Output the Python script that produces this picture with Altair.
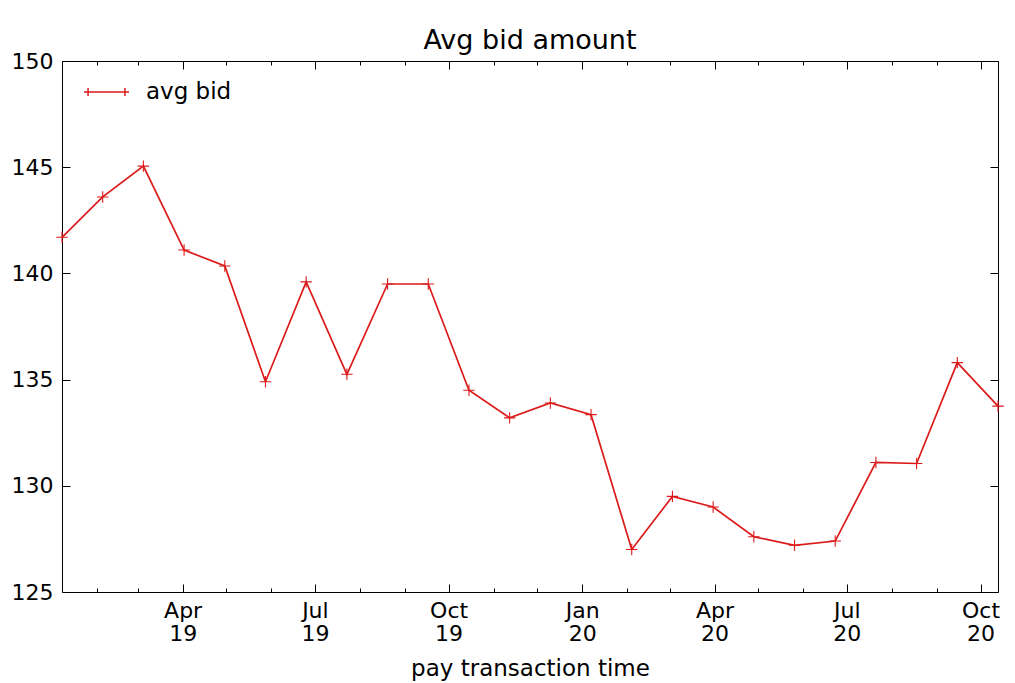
import altair as alt
import pandas as pd

# ---- data ----
dates = ["2019-01-08", "2019-02-05", "2019-03-05", "2019-04-02", "2019-04-30",
         "2019-05-28", "2019-06-25", "2019-07-23", "2019-08-20", "2019-09-17",
         "2019-10-15", "2019-11-12", "2019-12-10", "2020-01-07", "2020-02-04",
         "2020-03-03", "2020-03-31", "2020-04-28", "2020-05-26", "2020-06-23",
         "2020-07-21", "2020-08-18", "2020-09-15", "2020-10-13"]
avg_bid = [141.7, 143.6, 145.05, 141.1, 140.35, 134.9, 139.6, 135.25, 139.5, 139.5,
           134.5, 133.2, 133.9, 133.35, 127.0, 129.5, 129.0, 127.6, 127.2, 127.4,
           131.1, 131.05, 135.8, 133.75]
series_name = ["avg bid"] * len(dates)
y_ticks = [125, 130, 135, 140, 145, 150]

df = pd.DataFrame({"date": dates, "avg_bid": avg_bid, "series": series_name})

FONT = "DejaVu Sans"
RED = "#dc1a1a"
PLUS = "M-1,0L1,0M0,-1L0,1"
LEGEND_SYMBOL = "M-1,0L1,0M-0.82,-0.18L-0.82,0.18M0.82,-0.18L0.82,0.18"

x_scale = alt.Scale(type="utc", nice=False)
y_scale = alt.Scale(domain=[125, 150], nice=False, zero=False)

QUARTER = {"interval": "month", "step": 3}
MONTH = {"interval": "month", "step": 1}


def tick_axis(orient, count, size):
    return alt.Axis(orient=orient, title=None, domain=False, grid=False,
                    labels=False, tickCount=count, tickSize={"expr": str(-size)},
                    tickColor="black", tickWidth=1)


x_bottom = alt.Axis(
    orient="bottom", title="pay transaction time", domain=False, grid=False,
    tickCount=QUARTER, tickSize={"expr": "-8"}, tickColor="black", tickWidth=1,
    labelExpr="[utcFormat(datum.value, '%b'), utcFormat(datum.value, '%y')]",
    labelFont=FONT, labelFontSize=22, labelColor="black", labelPadding=16,
    labelLineHeight=23, labelOverlap=False, labelFlush=False, labelAlign="center",
    titleFont=FONT, titleFontSize=23, titleFontWeight="normal", titleColor="black",
    titleBaseline="alphabetic", titleY=83,
)
y_left = alt.Axis(
    orient="left", title=None, domain=False, grid=False, values=y_ticks,
    tickSize={"expr": "-8"}, tickColor="black", tickWidth=1,
    labelFont=FONT, labelFontSize=22, labelColor="black", labelPadding=17,
)
y_right = alt.Axis(
    orient="right", title=None, domain=False, grid=False, values=y_ticks,
    labels=False, tickSize={"expr": "-8"}, tickColor="black", tickWidth=1,
)

line = alt.Chart(df).mark_line(strokeWidth=1.7).encode(
    x=alt.X("date:T", scale=x_scale, axis=x_bottom),
    y=alt.Y("avg_bid:Q", scale=y_scale, axis=y_left),
    color=alt.Color(
        "series:N", scale=alt.Scale(range=[RED]),
        legend=alt.Legend(
            title=None, orient="none", legendX=21, legendY=7.5, padding=0,
            symbolType=LEGEND_SYMBOL, symbolSize=2025, symbolStrokeWidth=1.5,
            symbolStrokeColor=RED, symbolFillColor="transparent",
            labelFont=FONT, labelFontSize=23, labelColor="black", labelOffset=16,
        ),
    ),
)

points = alt.Chart(df).mark_point(
    shape=PLUS, size=130, filled=False, stroke=RED, strokeWidth=1.1, opacity=1
).encode(
    x=alt.X("date:T", scale=x_scale, axis=tick_axis("top", QUARTER, 8)),
    y=alt.Y("avg_bid:Q", scale=y_scale, axis=y_right),
)

minor_bottom = alt.Chart(df).mark_point(opacity=0).encode(
    x=alt.X("date:T", scale=x_scale, axis=tick_axis("bottom", MONTH, 4)),
    y=alt.Y("avg_bid:Q", scale=y_scale, axis=None),
)
minor_top = alt.Chart(df).mark_point(opacity=0).encode(
    x=alt.X("date:T", scale=x_scale, axis=tick_axis("top", MONTH, 4)),
    y=alt.Y("avg_bid:Q", scale=y_scale, axis=None),
)

chart = alt.layer(line, points, minor_bottom, minor_top).resolve_axis(
    x="independent"
).properties(
    width=936, height=531,
    autosize=alt.AutoSizeParams(type="none"),
    padding={"left": 54, "top": 53, "right": 9, "bottom": 90},
    title=alt.TitleParams("Avg bid amount", font=FONT, fontSize=27,
                          fontWeight="normal", color="black",
                          anchor="middle", baseline="bottom", offset=9, dy=41),
).configure(background="white").configure_view(stroke="black", strokeWidth=1)

chart.save("out.html", embed_options={"renderer": "svg", "actions": False})
